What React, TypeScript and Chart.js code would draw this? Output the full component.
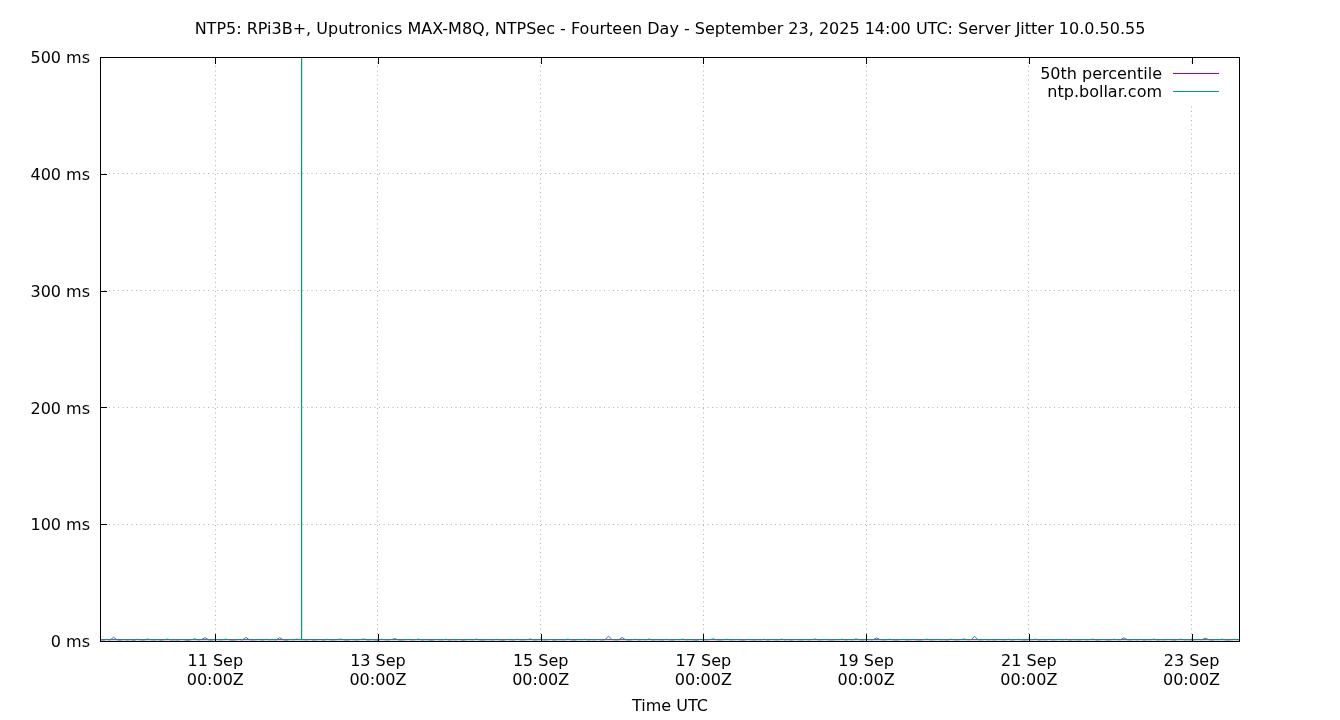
import { useEffect, useRef } from 'react'
import { Chart, registerables } from 'chart.js'

Chart.register(...registerables)

const TITLE =
  'NTP5: RPi3B+, Uputronics MAX-M8Q, NTPSec - Fourteen Day - September 23, 2025 14:00 UTC: Server Jitter 10.0.50.55'

// first sample: 9 Sep 2025 14:00 UTC, one value per hour
const startTime = Date.UTC(2025, 8, 9, 14)
const HOUR = 3600 * 1000

// server jitter, ms (hourly)
const jitter = [
  1.1, 0.8, 1.4, 0.9, 3.2, 1.0, 0.7, 1.3, 0.9, 1.2, 0.6, 1.5, 1.0, 0.8, 1.7, 1.1, 0.9, 1.3, 0.7, 1.2, 1.6, 0.9, 1.1, 0.8,
  1.4, 1.0, 0.7, 1.2, 1.8, 0.9, 1.3, 2.9, 1.0, 0.8, 1.5, 1.1, 0.9, 1.6, 1.2, 0.7, 1.0, 1.4, 0.8, 3.1, 1.2, 0.9, 1.1, 1.3,
  0.8, 1.5, 1.0, 1.2, 0.9, 2.8, 1.1, 0.7, 1.3, 1.0, 1.6, 1.2, 1.2, 0.9, 1.4, 0.8, 1.1, 1.3, 0.7, 1.5, 1.0, 0.9, 1.2, 1.6,
  1.0, 0.8, 1.3, 1.1, 0.9, 1.4, 1.7, 0.8, 1.2, 1.0, 0.7, 1.5, 1.1, 0.9, 1.3, 2.0, 1.0, 0.8, 1.2, 1.4, 0.9, 1.1, 1.6, 0.8,
  1.2, 1.0, 0.7, 1.3, 1.1, 0.9, 1.5, 0.8, 1.2, 1.0, 1.4, 0.7, 1.1, 1.3, 0.9, 1.6, 1.0, 0.8, 1.2, 1.1, 0.9, 1.4, 1.0, 0.7,
  1.3, 1.1, 0.8, 1.5, 1.0, 0.9, 1.2, 1.7, 0.8, 1.1, 1.3, 0.9, 1.0, 1.4, 0.7, 1.2, 1.1, 0.9, 1.6, 1.0, 0.8, 1.3, 1.1, 1.5,
  0.9, 1.2, 1.0, 1.4, 0.8, 1.1, 4.2, 1.3, 0.9, 1.0, 3.0, 1.2, 0.8, 1.1, 1.5, 0.9, 1.3, 1.0, 1.7, 0.8, 1.2, 1.1, 0.9, 1.4,
  1.0, 0.8, 1.3, 1.1, 1.6, 0.9, 1.2, 1.0, 0.7, 1.4, 1.1, 0.9, 1.3, 1.8, 1.0, 0.8, 1.2, 1.5, 0.9, 1.1, 1.3, 1.0, 0.8, 1.4,
  1.1, 0.9, 1.2, 1.0, 1.5, 0.8, 1.3, 1.1, 0.9, 1.6, 1.0, 1.2, 0.8, 1.4, 1.1, 0.9, 1.3, 1.0, 1.2, 1.7, 0.9, 1.1, 1.4, 1.0,
  0.8, 1.2, 1.1, 1.5, 0.9, 1.3, 1.0, 1.8, 1.1, 0.9, 1.4, 1.2, 1.0, 2.6, 1.3, 0.9, 1.1, 1.5, 1.0, 0.8, 1.2, 1.4, 0.9, 1.1,
  1.3, 1.0, 0.8, 1.2, 1.6, 0.9, 1.1, 1.4, 1.0, 1.2, 0.8, 1.5, 1.1, 0.9, 1.3, 1.7, 1.0, 1.2, 3.9, 1.1, 0.9, 1.4, 1.0, 1.2,
  0.9, 1.3, 1.1, 1.0, 1.5, 0.8, 1.2, 1.4, 1.0, 0.9, 1.3, 1.1, 1.6, 0.8, 1.2, 1.0, 1.4, 0.9, 1.1, 1.3, 1.0, 1.5, 0.8, 1.2,
  1.1, 0.9, 1.4, 1.0, 1.2, 1.6, 0.8, 1.1, 1.3, 1.0, 0.9, 1.5, 1.2, 1.0, 2.7, 1.1, 0.9, 1.3, 1.0, 1.4, 0.8, 1.2, 1.1, 1.6,
  0.9, 1.2, 1.0, 1.4, 1.1, 0.8, 1.3, 1.5, 1.0, 1.2, 0.9, 1.1, 1.4, 1.0, 2.5, 1.2, 0.8, 1.3, 1.1, 1.6, 1.0, 0.9, 1.2, 1.4,
  1.1,
]

// short burst on 12 Sep around 01:28 UTC (minutes past 01:00, ms)
const spikeMinutes = [27, 28, 29]
const spikeValues = [1.2, 3000, 1.0]

// 50th percentile, drawn flat across the range
const p50 = [1.1, 1.1]

const tickDays = [11, 13, 15, 17, 19, 21, 23]
const tickLabels = ['11 Sep', '13 Sep', '15 Sep', '17 Sep', '19 Sep', '21 Sep', '23 Sep']
const yTicks = [0, 100, 200, 300, 400, 500]

const GREEN = '#009e73'
const PURPLE = '#9400d3'
const FONT = "'DejaVu Sans', sans-serif"

const endTime = startTime + (jitter.length - 1) * HOUR
const tickTimes = tickDays.map((d) => Date.UTC(2025, 8, d))

const jitterPoints = jitter
  .map((v, i) => ({ x: startTime + i * HOUR, y: v }))
  .concat(spikeMinutes.map((m, i) => ({ x: Date.UTC(2025, 8, 12, 1, m), y: spikeValues[i] })))
  .sort((a, b) => a.x - b.x)

const gnuplotFrame = {
  id: 'gnuplotFrame',
  afterDraw(chart: Chart) {
    const { ctx, chartArea } = chart
    const { left, right, top, bottom } = chartArea
    const xs = chart.scales.x
    const ys = chart.scales.y
    ctx.save()
    ctx.strokeStyle = '#000'
    ctx.lineWidth = 1
    ctx.beginPath()
    tickTimes.forEach((t) => {
      const px = Math.round(xs.getPixelForValue(t)) + 0.5
      ctx.moveTo(px, bottom)
      ctx.lineTo(px, bottom - 7)
      ctx.moveTo(px, top)
      ctx.lineTo(px, top + 7)
    })
    yTicks.forEach((v) => {
      const py = Math.round(ys.getPixelForValue(v)) + 0.5
      ctx.moveTo(left, py)
      ctx.lineTo(left + 7, py)
    })
    ctx.stroke()
    ctx.strokeRect(left + 0.5, top + 0.5, right - left, bottom - top)

    // key
    ctx.fillStyle = '#fff'
    ctx.fillRect(1030, 64, 196, 39)
    ctx.fillStyle = '#000'
    ctx.font = `16px ${FONT}`
    ctx.textAlign = 'right'
    ctx.textBaseline = 'middle'
    ctx.fillText('50th percentile', 1162, 75)
    ctx.fillText('ntp.bollar.com', 1162, 93)
    ctx.beginPath()
    ctx.strokeStyle = PURPLE
    ctx.moveTo(1173, 73.5)
    ctx.lineTo(1219, 73.5)
    ctx.stroke()
    ctx.beginPath()
    ctx.strokeStyle = GREEN
    ctx.moveTo(1173, 91.5)
    ctx.lineTo(1219, 91.5)
    ctx.stroke()

    // titles
    ctx.textAlign = 'center'
    ctx.fillText(TITLE, 670, 30)
    ctx.fillText('Time UTC', 670, 707)
    ctx.restore()
  },
}

export default function App() {
  const chartRef = useRef<HTMLCanvasElement>(null)
  const chartInstance = useRef<Chart | null>(null)

  useEffect(() => {
    if (!chartRef.current) return
    if (chartInstance.current) chartInstance.current.destroy()
    const ctx = chartRef.current.getContext('2d')
    if (!ctx) return

    chartInstance.current = new Chart(ctx, {
      type: 'line',
      data: {
        datasets: [
          {
            label: 'ntp.bollar.com',
            data: jitterPoints,
            borderColor: GREEN,
            borderWidth: 1,
            pointRadius: 0,
            tension: 0,
          },
          {
            label: '50th percentile',
            data: p50.map((v, i) => ({ x: i === 0 ? startTime : endTime, y: v })),
            borderColor: PURPLE,
            borderWidth: 1,
            pointRadius: 0,
          },
        ],
      },
      options: {
        responsive: false,
        animation: false,
        layout: { padding: { top: 57, right: 101, left: 0, bottom: 0 } },
        plugins: {
          legend: { display: false },
          title: { display: false },
          tooltip: { enabled: false },
        },
        scales: {
          x: {
            type: 'linear',
            min: startTime,
            max: endTime,
            afterFit: (scale) => {
              scale.height = 79
            },
            afterBuildTicks: (scale) => {
              scale.ticks = tickTimes.map((t) => ({ value: t }))
            },
            grid: {
              color: 'rgba(170,170,170,0.9)',
              lineWidth: 1,
              drawTicks: false,
            },
            border: { display: false, dash: [1, 3.5] },
            ticks: {
              autoSkip: false,
              maxRotation: 0,
              padding: 11,
              color: '#000',
              font: { family: FONT, size: 16, lineHeight: 1.19 },
              callback: (_v, i) => [tickLabels[i], '00:00Z'],
            },
          },
          y: {
            min: 0,
            max: 500,
            afterFit: (scale) => {
              scale.width = 100
            },
            grid: {
              color: 'rgba(170,170,170,0.9)',
              lineWidth: 1,
              drawTicks: false,
            },
            border: { display: false, dash: [1, 3.5] },
            ticks: {
              stepSize: 100,
              padding: 10,
              labelOffset: 2,
              color: '#000',
              font: { family: FONT, size: 16 },
              callback: (v) => `${v} ms`,
            },
          },
        },
      },
      plugins: [gnuplotFrame],
    })

    return () => {
      if (chartInstance.current) {
        chartInstance.current.destroy()
        chartInstance.current = null
      }
    }
  }, [])

  return (
    <div style={{ position: 'absolute', left: 0, top: 0, width: 1340, height: 720, background: '#fff' }}>
      <canvas ref={chartRef} width={1340} height={720} style={{ display: 'block' }} />
    </div>
  )
}
